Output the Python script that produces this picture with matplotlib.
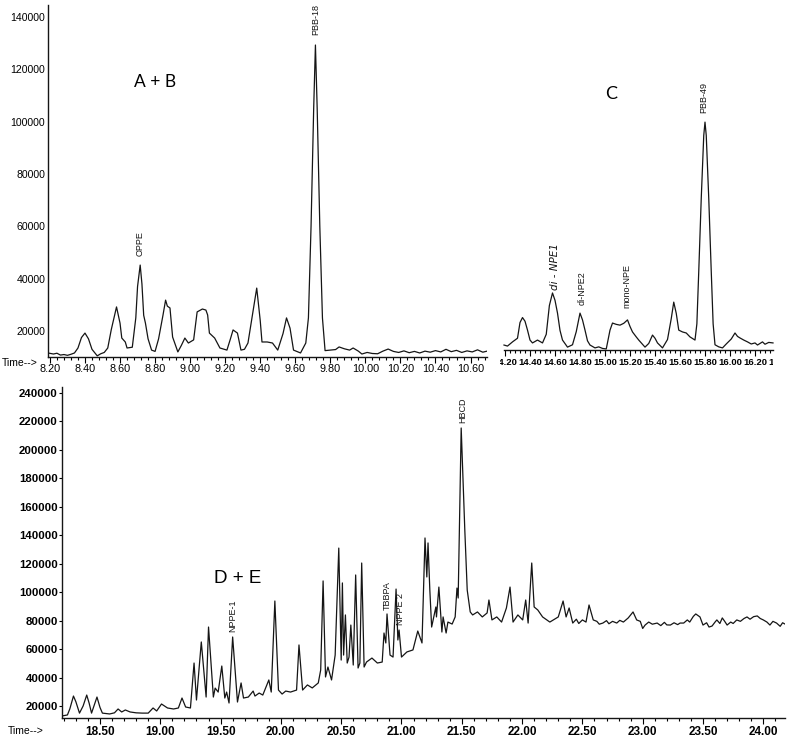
import numpy as np
import matplotlib
matplotlib.use("Agg")
import matplotlib.pyplot as plt
from matplotlib.ticker import FixedLocator
from matplotlib.transforms import Bbox, TransformedBbox

# ---- panel A + B (retention time, abundance) ----
ab_time = [8.189, 8.22, 8.24, 8.26, 8.28, 8.30, 8.32, 8.34, 8.36, 8.38, 8.40, 8.42, 8.44, 8.47,
           8.49, 8.51, 8.53, 8.55, 8.58, 8.60, 8.61, 8.63, 8.64, 8.67, 8.69, 8.70, 8.715, 8.725,
           8.735, 8.745, 8.76, 8.78, 8.80, 8.82, 8.845, 8.86, 8.87, 8.885, 8.90, 8.93, 8.95, 8.97,
           8.99, 9.02, 9.04, 9.07, 9.09, 9.10, 9.11, 9.14, 9.17, 9.21, 9.23, 9.245, 9.27, 9.29,
           9.31, 9.33, 9.36, 9.38, 9.40, 9.41, 9.44, 9.47, 9.50, 9.53, 9.55, 9.57, 9.59, 9.63,
           9.66, 9.675, 9.69, 9.705, 9.715, 9.725, 9.74, 9.755, 9.77, 9.80, 9.83, 9.85, 9.88,
           9.91, 9.93, 9.96, 9.98, 10.01, 10.04, 10.07, 10.10, 10.13, 10.16, 10.19, 10.22, 10.25,
           10.28, 10.31, 10.34, 10.37, 10.40, 10.43, 10.46, 10.49, 10.52, 10.55, 10.58, 10.61,
           10.64, 10.67, 10.694]
ab_abund = [11600, 11200, 11500, 10800, 11000, 10700, 11100, 11600, 13500, 17500, 19200, 17000,
            13000, 10500, 11300, 11800, 13500, 20500, 29200, 23000, 17300, 15800, 13500, 13800,
            25000, 37000, 45200, 38000, 26000, 23000, 17000, 12700, 12200, 17000, 26000, 31800,
            29500, 28800, 17700, 12000, 14500, 17300, 15400, 16600, 27300, 28400, 28000, 26100,
            19200, 17300, 13500, 12700, 17000, 20400, 19200, 12700, 13000, 15400, 28000, 36400,
            24000, 15800, 15800, 15400, 12700, 19000, 25000, 21100, 12700, 11600, 15400, 25000,
            60000, 105000, 129300, 105000, 60000, 25000, 12500, 12700, 12900, 13900, 13200, 12700,
            13500, 12300, 11200, 11800, 11400, 11300, 12300, 13100, 12200, 11800, 12400, 11700,
            12200, 11600, 12300, 11900, 12500, 12000, 13000, 12100, 12600, 11800, 12400, 12000,
            12800, 11900, 12300]

# ---- panel C ----
c_time = [14.192, 14.22, 14.26, 14.30, 14.32, 14.34, 14.36, 14.38, 14.40, 14.42, 14.46, 14.50,
          14.53, 14.555, 14.58, 14.60, 14.62, 14.64, 14.66, 14.70, 14.74, 14.77, 14.80, 14.82,
          14.84, 14.86, 14.88, 14.92, 14.95, 14.98, 15.01, 15.04, 15.06, 15.09, 15.12, 15.15,
          15.18, 15.20, 15.22, 15.25, 15.27, 15.32, 15.35, 15.38, 15.40, 15.42, 15.46, 15.50,
          15.53, 15.55, 15.57, 15.59, 15.62, 15.65, 15.68, 15.72, 15.735, 15.75, 15.77, 15.79,
          15.80, 15.81, 15.83, 15.85, 15.865, 15.88, 15.91, 15.94, 15.97, 16.01, 16.04, 16.06,
          16.08, 16.11, 16.14, 16.17, 16.20, 16.22, 16.24, 16.26, 16.28, 16.31, 16.344]
c_abund = [11900, 11500, 13100, 14500, 20500, 22400, 21000, 17600, 13800, 12700, 13800, 12700,
           16000, 27000, 31800, 29000, 24100, 17500, 13800, 11100, 12000, 17000, 24100, 21500,
           17600, 13500, 11900, 10800, 11200, 10600, 10400, 17600, 20300, 19800, 19500, 20200,
           21500, 19000, 16900, 15000, 13800, 11100, 12500, 15700, 14500, 12700, 10800, 14000,
           22000, 28300, 24000, 17600, 16900, 16500, 15000, 13800, 20000, 40000, 68000, 92000,
           97100, 92000, 68000, 40000, 20000, 12000, 11200, 10800, 12300, 14200, 16500, 15200,
           14600, 13800, 13100, 12300, 12700, 11900, 12500, 13100, 12200, 12900, 12700]

# ---- panel D + E ----
de_time = [18.185, 18.23, 18.25, 18.28, 18.30, 18.33, 18.36, 18.39, 18.41, 18.43, 18.45, 18.475,
           18.50, 18.52, 18.58, 18.62, 18.65, 18.68, 18.71, 18.75, 18.80, 18.85, 18.90, 18.94,
           18.97, 19.01, 19.06, 19.11, 19.15, 19.18, 19.21, 19.25, 19.28, 19.30, 19.34, 19.38,
           19.40, 19.44, 19.455, 19.48, 19.51, 19.535, 19.55, 19.57, 19.60, 19.64, 19.67, 19.69,
           19.73, 19.77, 19.785, 19.82, 19.85, 19.90, 19.92, 19.95, 19.98, 20.01, 20.04, 20.08,
           20.13, 20.15, 20.18, 20.22, 20.26, 20.31, 20.33, 20.35, 20.37, 20.39, 20.42, 20.45,
           20.48, 20.50, 20.51, 20.52, 20.535, 20.55, 20.565, 20.58, 20.60, 20.62, 20.64, 20.655,
           20.67, 20.69, 20.71, 20.755, 20.80, 20.84, 20.855, 20.87, 20.88, 20.905, 20.93, 20.955,
           20.97, 20.98, 21.00, 21.045, 21.095, 21.135, 21.17, 21.195, 21.21, 21.22, 21.235,
           21.25, 21.285, 21.29, 21.31, 21.335, 21.345, 21.37, 21.385, 21.42, 21.445, 21.46,
           21.47, 21.495, 21.51, 21.525, 21.545, 21.57, 21.59, 21.63, 21.67, 21.71, 21.725, 21.75,
           21.79, 21.83, 21.87, 21.90, 21.925, 21.965, 22.005, 22.03, 22.05, 22.08, 22.10, 22.13,
           22.17, 22.23, 22.30, 22.34, 22.365, 22.39, 22.42, 22.45, 22.47, 22.50, 22.53, 22.555,
           22.59, 22.62, 22.64, 22.67, 22.70, 22.72, 22.75, 22.785, 22.81, 22.84, 22.88, 22.92,
           22.95, 22.98, 23.00, 23.02, 23.05, 23.08, 23.12, 23.15, 23.18, 23.20, 23.23, 23.26,
           23.29, 23.31, 23.34, 23.37, 23.39, 23.42, 23.44, 23.475, 23.50, 23.53, 23.55, 23.575,
           23.60, 23.615, 23.64, 23.66, 23.68, 23.70, 23.73, 23.75, 23.78, 23.81, 23.84, 23.865,
           23.89, 23.92, 23.95, 23.975, 24.00, 24.03, 24.055, 24.08, 24.11, 24.14, 24.16, 24.18]
de_abund = [13000, 13700, 18000, 27000, 23000, 15000, 20000, 27700, 22000, 15000, 20000, 26300,
            19000, 15000, 14400, 15200, 17900, 15800, 17200, 15800, 15200, 15000, 15000, 18600,
            16500, 21400, 18600, 17900, 18600, 25600, 19300, 18600, 50200, 24200, 65000, 26300,
            75500, 26300, 32600, 29800, 48100, 25600, 29800, 22100, 68500, 22800, 36200, 25600,
            26300, 30500, 27000, 29100, 27700, 38300, 29800, 93800, 31200, 28400, 30500, 29800,
            31200, 62900, 31200, 34800, 32700, 36200, 45300, 107900, 40400, 47400, 38300, 55800,
            131000, 52300, 106500, 55800, 84000, 50200, 54400, 76900, 48800, 112100, 46700, 50200,
            120500, 47400, 50900, 53700, 50200, 50900, 71300, 64300, 84700, 55800, 54400, 102200,
            66400, 73400, 54400, 58000, 59400, 72700, 64300, 138100, 110700, 134600, 101500,
            75500, 89600, 82600, 103600, 72000, 82600, 71300, 79000, 77600, 82600, 102900,
            95900, 215400, 178800, 143700, 101500, 86100, 84000, 86100, 82600, 85400, 94500, 80500,
            82600, 79000, 88900, 103600, 79000, 84000, 80500, 94500, 78300, 120500, 89600, 87500,
            82600, 79000, 82600, 93800, 82600, 88900, 78300, 81000, 78000, 80500, 79000, 91000,
            80500, 79500, 77500, 78300, 80000, 77800, 79500, 78300, 80200, 79000, 81900, 86100,
            80500, 79500, 74500, 76900, 79000, 77500, 78300, 76500, 78800, 77000, 76900, 78500,
            77200, 78300, 78300, 80500, 79000, 83000, 84700, 82600, 76900, 78500, 75500, 76200,
            79000, 80500, 78000, 81900, 79500, 76900, 79000, 78000, 80500, 79500, 81500, 82600,
            81000, 82800, 83300, 81500, 80500, 79000, 76900, 79500, 78300, 76000, 78500, 77600]

# peak annotations: (name, time, abundance at text base)
ab_peaks = [("OPPE", 8.717, 48500), ("PBB-18", 9.717, 133000)]
c_peaks = [("di-NPE2", 14.816, 27200), ("mono-NPE", 15.176, 26000), ("PBB-49", 15.79, 100700)]
de_peaks = [("NPPE-1", 19.603, 72000), ("TBBPA", 20.88, 87500), ("NPPE 2", 20.99, 76900),
            ("HBCD", 21.51, 218900)]

W, H = 788, 738
fig = plt.figure(figsize=(W / 100, H / 100), dpi=100)

SANS = ["Liberation Sans", "DejaVu Sans"]
LINE = "#151515"


def px_axes(x0, y0, x1, y1):
    ax = fig.add_axes([x0 / W, (H - y1) / H, (x1 - x0) / W, (y1 - y0) / H])
    ax.patch.set_visible(False)
    for s in ("top", "right"):
        ax.spines[s].set_visible(False)
    for s in ax.spines.values():
        s.set_linewidth(1.0)
        s.set_color(LINE)
    return ax


def peak_labels(ax, peaks, size=6.5):
    for name, t, y in peaks:
        ax.text(t, y, name, rotation=90, ha="center", va="bottom", fontsize=size,
                family=SANS, color=LINE)


# ---------- A + B ----------
ax1 = px_axes(48, 5, 487, 357)
ax1.plot(ab_time, ab_abund, color=LINE, lw=0.9)
ax1.set_xlim(8.189, 10.694)
ax1.set_ylim(10060, 144600)
ab_major = np.arange(8.2, 10.61, 0.2)
ax1.xaxis.set_major_locator(FixedLocator(ab_major))
ax1.xaxis.set_minor_locator(FixedLocator(np.arange(8.2, 10.69, 0.04)))
ax1.set_xticklabels([f"{v:.2f}" for v in ab_major])
ax1.yaxis.set_major_locator(FixedLocator(np.arange(20000, 140001, 20000)))
ax1.set_yticklabels([str(v) for v in range(20000, 140001, 20000)])
ax1.tick_params(axis="x", which="major", length=4, width=0.8, pad=1, labelsize=7.8,
                labelfontfamily="Liberation Sans")
ax1.tick_params(axis="x", which="minor", length=2.5, width=0.8)
ax1.tick_params(axis="y", length=0, pad=2, labelsize=7.6, labelfontfamily="Liberation Sans")
peak_labels(ax1, ab_peaks)
ax1.text(0.195, 0.78, "A + B", transform=ax1.transAxes, fontsize=12.5,
         family=["Lato", "DejaVu Sans"], ha="left", va="center")
fig.text(2 / W, 1 - 363 / H, "Time-->", fontsize=7.5, family=SANS, va="center")

# ---------- C ----------
ax2 = px_axes(492.5, 0, 782.5, 350)
ax2.plot(c_time, c_abund, color=LINE, lw=0.9)
ax2.set_xlim(14.10, 16.42)
ax2.set_ylim(10000, 143770)
ax2.spines["left"].set_visible(False)
ax2.spines["bottom"].set_bounds(14.192, 16.344)
ax2.set_yticks([])
c_major = np.arange(14.2, 16.41, 0.2)
ax2.xaxis.set_major_locator(FixedLocator(c_major))
ax2.xaxis.set_minor_locator(FixedLocator(np.arange(14.2, 16.35, 0.04)))
ax2.set_xticklabels([f"{v:.2f}" for v in c_major], fontweight="bold")
ax2.tick_params(axis="x", which="major", length=4, width=0.8, pad=2, labelsize=6.8,
                labelfontfamily="Liberation Sans")
ax2.tick_params(axis="x", which="minor", length=2.5, width=0.8)
# the scan cuts the first and last time labels of this panel
clip = TransformedBbox(Bbox([[500 / W, 0], [773 / W, 1]]), fig.transFigure)
for tk in ax2.xaxis.get_major_ticks() + ax2.xaxis.get_minor_ticks():
    for art in (tk.label1, tk.tick1line):
        art.set_clip_on(True)
        art.set_clip_box(clip)
peak_labels(ax2, c_peaks)
ax2.text(14.60, 32900, "di - NPE1", rotation=90, ha="center", va="bottom", fontsize=7.5,
         style="italic", family=["DejaVu Sans"], color=LINE)
ax2.text(15.00, 108000, "C", fontsize=13, family=["Lato", "DejaVu Sans"], ha="left",
         va="center")

# ---------- D + E ----------
ax3 = px_axes(62, 387, 785, 718)
ax3.plot(de_time, de_abund, color=LINE, lw=0.9)
ax3.set_xlim(18.185, 24.18)
ax3.set_ylim(11565, 244220)
de_major = np.arange(18.5, 24.01, 0.5)
ax3.xaxis.set_major_locator(FixedLocator(de_major))
ax3.xaxis.set_minor_locator(FixedLocator(np.arange(18.2, 24.18, 0.1)))
ax3.set_xticklabels([f"{v:.2f}" for v in de_major], fontweight="bold")
ax3.yaxis.set_major_locator(FixedLocator(np.arange(20000, 240001, 20000)))
ax3.set_yticklabels([str(v) for v in range(20000, 240001, 20000)], fontweight="bold")
ax3.tick_params(axis="x", which="major", length=4, width=0.8, pad=1.5, labelsize=8.5,
                labelfontfamily="Liberation Sans")
ax3.tick_params(axis="x", which="minor", length=2.5, width=0.8)
ax3.tick_params(axis="y", length=2, width=0.8, pad=1, labelsize=8.2,
                labelfontfamily="Liberation Sans")
peak_labels(ax3, de_peaks)
ax3.text(0.21, 0.42, "D + E", transform=ax3.transAxes, fontsize=13.5, family=SANS,
         ha="left", va="center")
fig.text(8 / W, 1 - 731 / H, "Time-->", fontsize=7.5, family=SANS, va="center")

fig.savefig("out.png", dpi=100)
